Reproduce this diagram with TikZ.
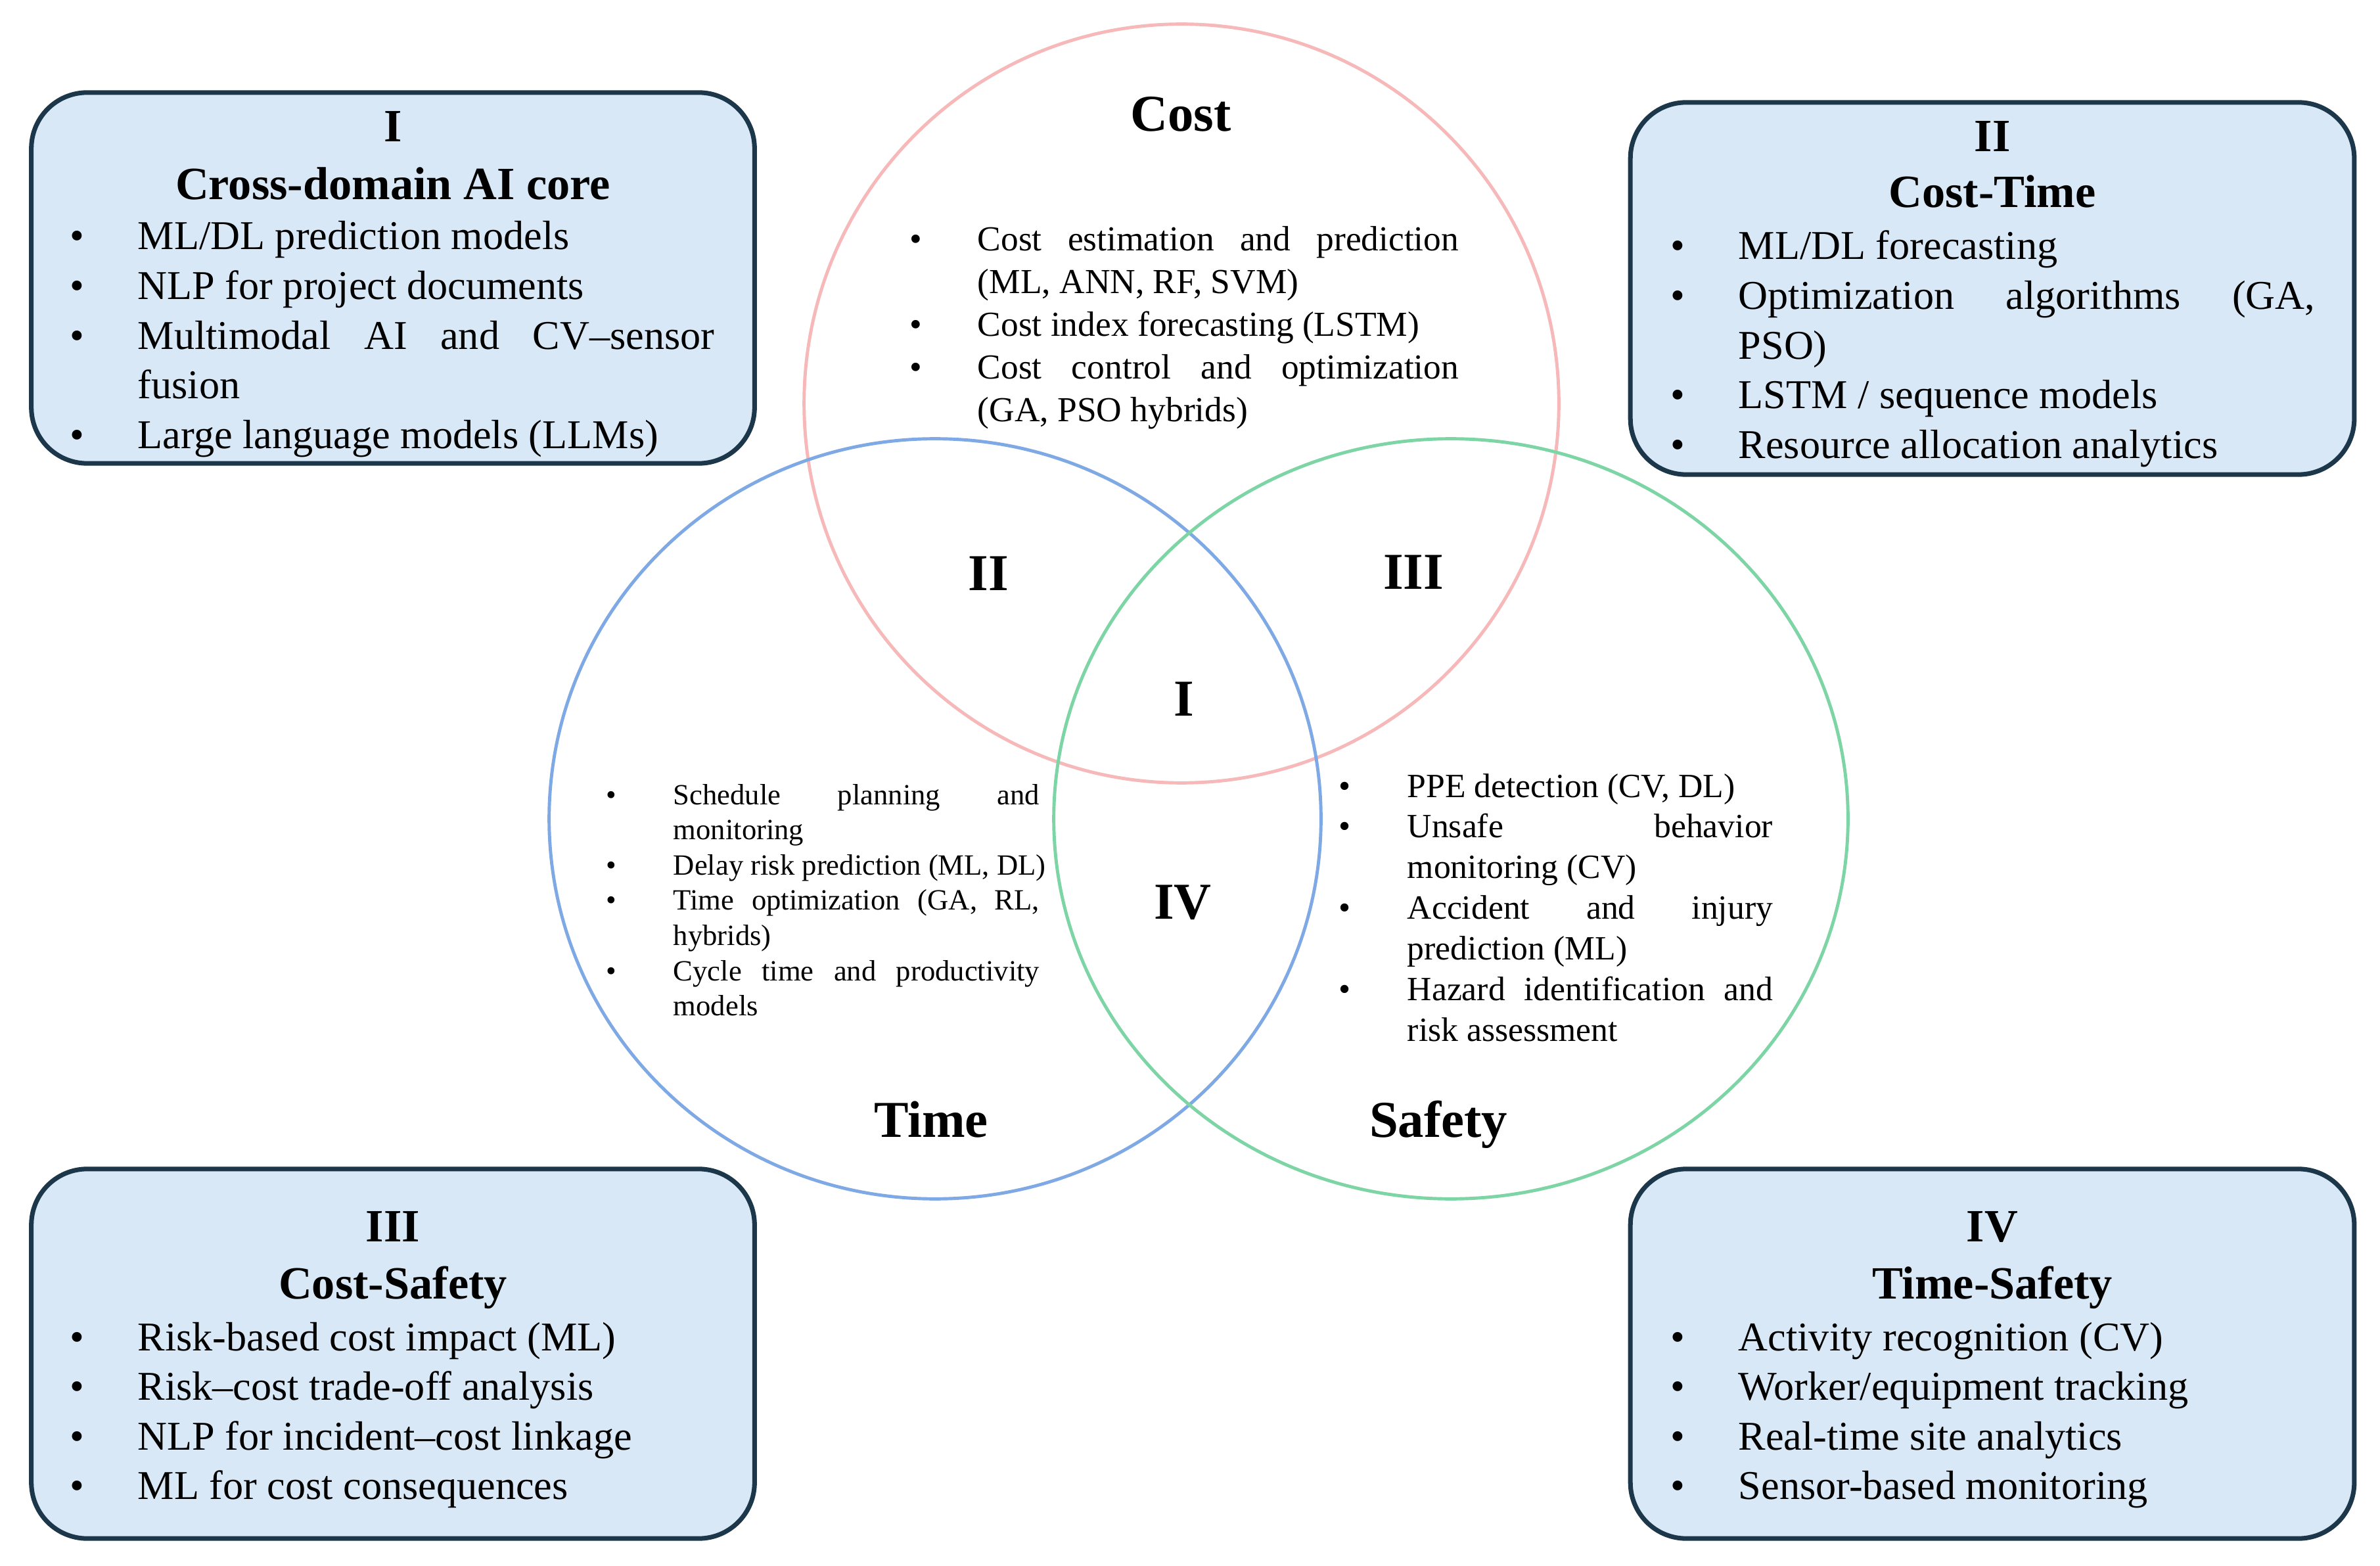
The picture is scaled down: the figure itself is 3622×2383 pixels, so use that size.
\documentclass[tikz,border=0pt]{standalone}
\usepackage{fontspec}
\setmainfont{Liberation Serif}
\usetikzlibrary{shapes.geometric}
\definecolor{boxfill}{HTML}{D9E8F6}
\definecolor{boxline}{HTML}{1C374A}
\definecolor{costc}{HTML}{F6B8B8}
\definecolor{timec}{HTML}{7FA9E4}
\definecolor{safec}{HTML}{7DD5A6}
\hyphenpenalty=10000
\exhyphenpenalty=10000
\hbadness=10000
\newlength{\bhang}
\newcommand{\bitem}[1]{\noindent\hangindent=\bhang\hangafter=1\makebox[\bhang][l]{\textbullet}#1\par}
\tikzset{
  vennset/.style={ellipse, draw, line width=1.4pt, inner sep=0pt},
  infobox/.style={draw=boxline, fill=boxfill, line width=2pt, rounded corners=0.85cm, inner sep=0pt},
  boxhead/.style={anchor=base, inner sep=0pt, font=\fontsize{20}{24}\selectfont\bfseries},
  setlabel/.style={anchor=base, inner sep=0pt, font=\fontsize{22.4}{27}\selectfont\bfseries},
  listbase/.style={anchor=base west, inner sep=0pt, align=justify},
  boxlist/.style={listbase, text width=9.80cm, font=\fontsize{17.7}{21.5}\selectfont},
}
\begin{document}
\begin{tikzpicture}[x=0.01cm, y=-0.01cm]
\useasboundingbox[fill=white] (0,0) rectangle (3622,2383);

% Venn circles
\node[vennset, draw=costc, minimum width=11.48cm, minimum height=11.54cm] (cost) at (1798,614) {};
\node[vennset, draw=timec, minimum width=11.74cm, minimum height=11.56cm] (time) at (1423,1246) {};
\node[vennset, draw=safec, minimum width=12.08cm, minimum height=11.56cm] (safety) at (2208,1246) {};

% set and region labels
\node[setlabel] (costlbl) at (1797,200) {Cost};
\node[setlabel] (timelbl) at (1417,1730) {Time};
\node[setlabel] (safelbl) at (2189,1730) {Safety};
\node[setlabel] (rII) at (1504,899) {II};
\node[setlabel] (rIII) at (2151,897) {III};
\node[setlabel] (rI) at (1802,1089) {I};
\node[setlabel] (rIV) at (1800,1398) {IV};

% texts inside circles
\node[listbase, text width=8.35cm, font=\fontsize{15.2}{18.42}\selectfont] (costtxt) at (1384,382) {%
\setlength{\bhang}{1.03cm}%
\bitem{Cost estimation and prediction\linebreak (ML, ANN, RF, SVM)}
\bitem{Cost index forecasting (LSTM)}
\bitem{Cost control and optimization\linebreak (GA, PSO hybrids)}};

\node[listbase, text width=6.59cm, font=\fontsize{12.7}{15.25}\selectfont] (timetxt) at (922,1224) {%
\setlength{\bhang}{1.02cm}%
\bitem{Schedule planning and\linebreak monitoring}
\bitem{\mbox{Delay risk prediction (ML, DL)}}
\bitem{Time optimization (GA, RL,\linebreak hybrids)}
\bitem{Cycle time and productivity\linebreak models}};

\node[listbase, text width=6.60cm, font=\fontsize{14.7}{17.6}\selectfont] (safetxt) at (2037,1213) {%
\setlength{\bhang}{1.04cm}%
\bitem{PPE detection (CV, DL)}
\bitem{Unsafe behavior\linebreak monitoring (CV)}
\bitem{Accident and injury\linebreak prediction (ML)}
\bitem{Hazard identification and\linebreak risk assessment}};

% Box I
\node[infobox, minimum width=11.00cm, minimum height=5.64cm] (boxI) at (598,423) {};
\node[boxhead] (boxInum) at (598,216) {I};
\node[boxhead] (boxItitle) at (598,304) {Cross-domain AI core};
\node[boxlist] (boxIlist) at (106,380) {%
\setlength{\bhang}{1.03cm}%
\bitem{ML/DL prediction models}
\bitem{NLP for project documents}
\bitem{Multimodal AI and CV–sensor\linebreak fusion}
\bitem{Large language models (LLMs)}};

% Box II
\node[infobox, minimum width=11.01cm, minimum height=5.66cm] (boxII) at (3032,439) {};
\node[boxhead] (boxIInum) at (3032,231) {II};
\node[boxhead] (boxIItitle) at (3032,316) {Cost-Time};
\node[boxlist] (boxIIlist) at (2542,395) {%
\setlength{\bhang}{1.03cm}%
\bitem{ML/DL forecasting}
\bitem{Optimization algorithms (GA,\linebreak PSO)}
\bitem{LSTM / sequence models}
\bitem{Resource allocation analytics}};

% Box III
\node[infobox, minimum width=11.00cm, minimum height=5.62cm] (boxIII) at (598,2060) {};
\node[boxhead] (boxIIInum) at (598,1889) {III};
\node[boxhead] (boxIIItitle) at (598,1976) {Cost-Safety};
\node[boxlist] (boxIIIlist) at (106,2055) {%
\setlength{\bhang}{1.03cm}%
\bitem{Risk-based cost impact (ML)}
\bitem{Risk–cost trade-off analysis}
\bitem{NLP for incident–cost linkage}
\bitem{ML for cost consequences}};

% Box IV
\node[infobox, minimum width=11.01cm, minimum height=5.62cm] (boxIV) at (3032,2060) {};
\node[boxhead] (boxIVnum) at (3032,1889) {IV};
\node[boxhead] (boxIVtitle) at (3032,1976) {Time-Safety};
\node[boxlist] (boxIVlist) at (2542,2055) {%
\setlength{\bhang}{1.03cm}%
\bitem{Activity recognition (CV)}
\bitem{Worker/equipment tracking}
\bitem{Real-time site analytics}
\bitem{Sensor-based monitoring}};
\end{tikzpicture}
\end{document}
